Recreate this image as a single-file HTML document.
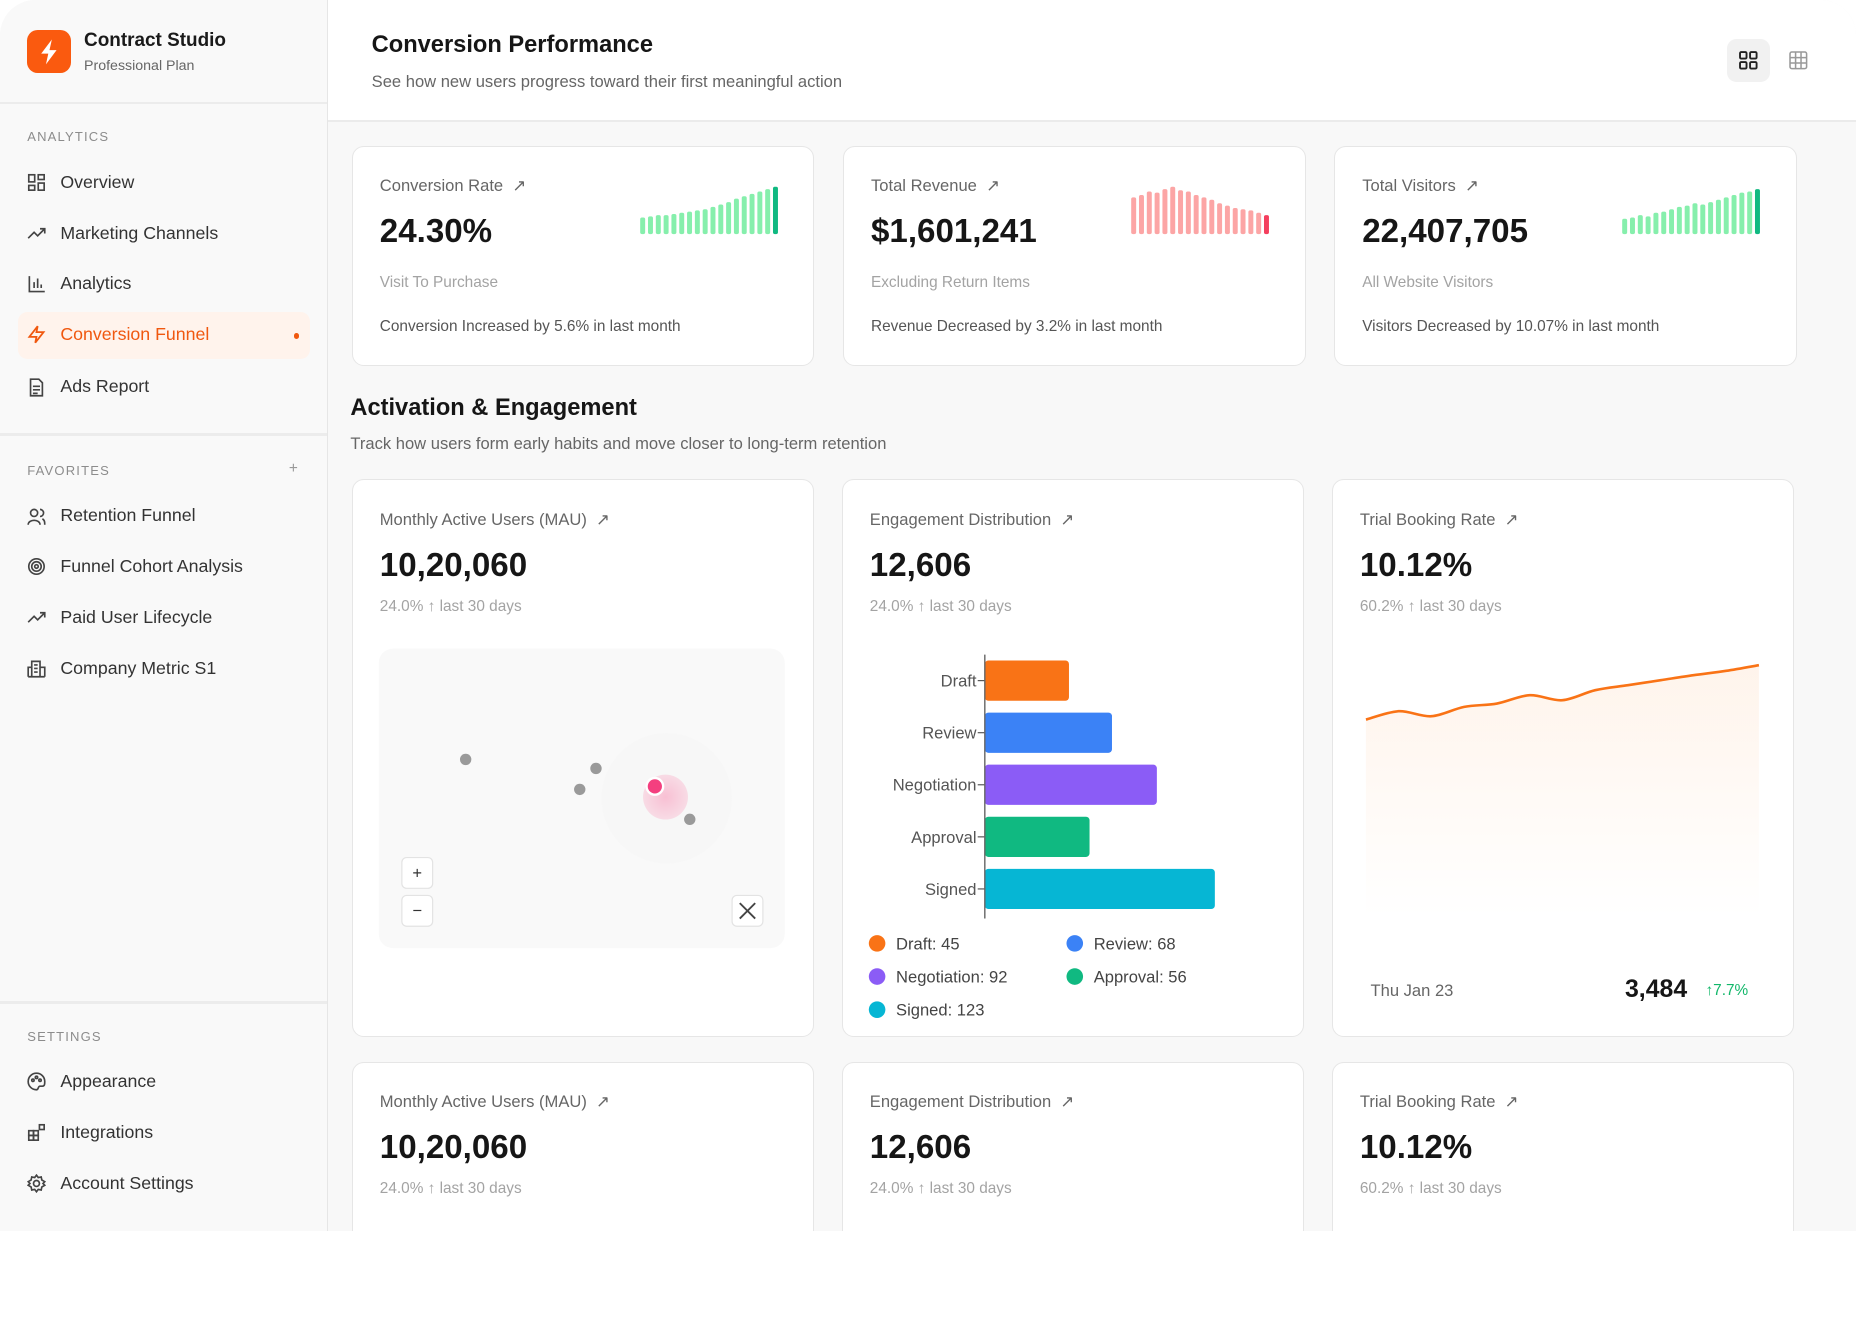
<!DOCTYPE html>
<html><head><meta charset="utf-8">
<style>
html,body{margin:0;padding:0;background:#fff;}
body{width:1856px;height:1344px;overflow:hidden;font-family:"Liberation Sans",sans-serif;}
#stage{position:relative;width:1568px;height:1135px;zoom:1.18367;}
.abs{position:absolute;white-space:nowrap;}
#win{position:absolute;left:0;top:0;width:1568px;height:1040px;background:#f8f8f8;border-radius:30px 30px 0 0;overflow:hidden;}
#side{position:absolute;left:0;top:0;width:276px;height:1040px;background:#f9f9f9;border-right:1px solid #e6e6e6;}
.hr{position:absolute;left:0;width:276px;height:2px;background:#ececec;}
.sec{position:absolute;left:23px;font-size:11px;letter-spacing:1px;color:#8c8c8c;}
.item{position:absolute;left:23px;width:230px;height:18px;font-size:15px;line-height:18px;color:#333;white-space:nowrap;}
.item svg{position:absolute;left:0;top:1px;}
.item span{position:absolute;left:28px;white-space:nowrap;}
#head{position:absolute;left:277px;top:0;width:1291px;height:101px;background:#fff;border-bottom:2px solid #ebebeb;}
.card{position:absolute;background:#fff;border:1.5px solid #e6e6e6;border-radius:10px;box-sizing:border-box;}
.lbl{font-size:14px;color:#666;}
.val{font-size:28px;font-weight:bold;color:#161616;}
.sub{font-size:13px;color:#a3a3a3;}
.foot{font-size:13px;color:#555;}
</style></head><body>
<div id="stage">
<div id="win">
<div id="side">
  <div class="abs" style="left:23px;top:25px;width:37px;height:37px;border-radius:9px;background:#fa5a0f;">
    <svg width="37" height="37" viewBox="0 0 37 37"><path d="M21 8 L12 20 H18 L16 29 L25 17 H19 Z" fill="#fff"/></svg></div>
  <div class="abs" style="left:71px;top:25px;font-size:16px;font-weight:bold;color:#1a1a1a;">Contract Studio</div>
  <div class="abs" style="left:71px;top:49px;font-size:12px;color:#666;">Professional Plan</div>
  <div class="hr" style="top:86px;"></div>
  <div class="sec" style="top:109px;">ANALYTICS</div>
  <div class="item" style="top:145px;"><svg width="16" height="16" fill="none" stroke="#444" stroke-width="1.4"><rect x="1.5" y="1.5" width="5" height="6"/><rect x="9.5" y="1.5" width="5" height="4"/><rect x="1.5" y="10.5" width="5" height="4"/><rect x="9.5" y="8.5" width="5" height="6"/></svg><span>Overview</span></div>
  <div class="item" style="top:188px;"><svg width="16" height="16" fill="none" stroke="#444" stroke-width="1.4"><path d="M1 12 L6 7 L9 10 L15 4 M11 4 H15 V8"/></svg><span>Marketing Channels</span></div>
  <div class="item" style="top:231px;"><svg width="16" height="16" fill="none" stroke="#444" stroke-width="1.4"><path d="M2 1 V14 H15 M6 11 V6 M9 11 V3 M12 11 V8"/></svg><span>Analytics</span></div>
  <div class="abs" style="left:15px;top:264px;width:247px;height:39px;background:#fff3ec;border-radius:8px;"></div>
  <div class="item" style="top:274px;color:#f0580f;"><svg width="16" height="16" fill="none" stroke="#f0580f" stroke-width="1.5"><path d="M9 1 L2 10 H8 L7 15 L14 6 H8 Z"/></svg><span>Conversion Funnel</span></div>
  <div class="abs" style="left:248px;top:281px;width:5px;height:5px;border-radius:50%;background:#f0580f;"></div>
  <div class="item" style="top:318px;"><svg width="16" height="16" fill="none" stroke="#444" stroke-width="1.4"><path d="M3 1 H10 L13 4 V15 H3 Z M5 7 H11 M5 10 H11 M5 13 H9"/></svg><span>Ads Report</span></div>
  <div class="hr" style="top:366px;"></div>
  <div class="sec" style="top:391px;">FAVORITES</div>
  <div class="abs" style="left:244px;top:389px;font-size:13px;color:#999;">+</div>
  <div class="item" style="top:427px;"><svg width="16" height="16" fill="none" stroke="#444" stroke-width="1.4"><circle cx="6" cy="5" r="3"/><path d="M1 15 C1 10 11 10 11 15 M11 2 A3 3 0 0 1 11 8 M13 10 C15 11 15 13 15 15"/></svg><span>Retention Funnel</span></div>
  <div class="item" style="top:470px;"><svg width="16" height="16" fill="none" stroke="#444" stroke-width="1.4"><circle cx="8" cy="8" r="6.5"/><circle cx="8" cy="8" r="4"/><circle cx="8" cy="8" r="1.5"/></svg><span>Funnel Cohort Analysis</span></div>
  <div class="item" style="top:513px;"><svg width="16" height="16" fill="none" stroke="#444" stroke-width="1.4"><path d="M1 12 L6 7 L9 10 L15 4 M11 4 H15 V8"/></svg><span>Paid User Lifecycle</span></div>
  <div class="item" style="top:556px;"><svg width="16" height="16" fill="none" stroke="#444" stroke-width="1.4"><path d="M4 15 V2 H11 V15 Z M1 15 H15 M1 15 V7 H4 M11 7 H15 V15 M6 5 H9 M6 8 H9 M6 11 H9"/></svg><span>Company Metric S1</span></div>
  <div class="hr" style="top:846px;"></div>
  <div class="sec" style="top:869px;">SETTINGS</div>
  <div class="item" style="top:905px;"><svg width="16" height="16" fill="none" stroke="#444" stroke-width="1.4"><path d="M8 1 A7 7 0 0 0 8 15 C10 15 9 12 11 12 H13 C15 12 15 10 15 8 A7 7 0 0 0 8 1 Z"/><circle cx="5" cy="7" r="1"/><circle cx="8" cy="4.5" r="1"/><circle cx="11" cy="7" r="1"/></svg><span>Appearance</span></div>
  <div class="item" style="top:948px;"><svg width="16" height="16" fill="none" stroke="#444" stroke-width="1.4"><rect x="1.5" y="6.5" width="4" height="4"/><rect x="5.5" y="6.5" width="4" height="4"/><rect x="1.5" y="10.5" width="4" height="4"/><rect x="5.5" y="10.5" width="4" height="4"/><rect x="10.5" y="1.5" width="4" height="4"/></svg><span>Integrations</span></div>
  <div class="item" style="top:991px;"><svg width="16" height="16" fill="none" stroke="#444" stroke-width="1.4"><circle cx="8" cy="8" r="2.5"/><path d="M8 1 L9.5 3 L12 2.5 L12.5 5 L15 6.5 L13.5 8 L15 9.5 L12.5 11 L12 13.5 L9.5 13 L8 15 L6.5 13 L4 13.5 L3.5 11 L1 9.5 L2.5 8 L1 6.5 L3.5 5 L4 2.5 L6.5 3 Z"/></svg><span>Account Settings</span></div>
</div>

<div id="head">
  <div class="abs" style="left:37px;top:27px;font-size:20px;font-weight:bold;color:#161616;">Conversion Performance</div>
  <div class="abs" style="left:37px;top:61px;font-size:14px;color:#666;">See how new users progress toward their first meaningful action</div>
  <div class="abs" style="left:1182px;top:33px;width:36px;height:36px;border-radius:8px;background:#f1f1f1;">
    <svg width="36" height="36" fill="none" stroke="#222" stroke-width="1.6"><rect x="11" y="11" width="5.5" height="5.5" rx="1"/><rect x="19.5" y="11" width="5.5" height="5.5" rx="1"/><rect x="11" y="19.5" width="5.5" height="5.5" rx="1"/><rect x="19.5" y="19.5" width="5.5" height="5.5" rx="1"/></svg></div>
  <div class="abs" style="left:1224px;top:33px;width:36px;height:36px;">
    <svg width="36" height="36" fill="none" stroke="#999" stroke-width="1.3"><rect x="11" y="11" width="14" height="14" rx="1.5"/><path d="M15.7 11 V25 M20.3 11 V25 M11 15.7 H25 M11 20.3 H25"/></svg></div>
</div>

<!-- KPI cards -->
<div class="card" style="left:297px;top:123px;width:391px;height:186px;">
  <div class="abs lbl" style="left:23px;top:25px;">Conversion Rate &nbsp;↗</div>
  <div class="abs val" style="left:23px;top:56px;">24.30%</div>
  <div class="abs sub" style="left:23px;top:108px;">Visit To Purchase</div>
  <div class="abs foot" style="left:23px;top:145px;">Conversion Increased by 5.6% in last month</div>
  <svg class="abs" id="spark1" style="left:242px;top:30px;" width="122" height="45"></svg>
</div>
<div class="card" style="left:712px;top:123px;width:391px;height:186px;">
  <div class="abs lbl" style="left:23px;top:25px;">Total Revenue &nbsp;↗</div>
  <div class="abs val" style="left:23px;top:56px;">$1,601,241</div>
  <div class="abs sub" style="left:23px;top:108px;">Excluding Return Items</div>
  <div class="abs foot" style="left:23px;top:145px;">Revenue Decreased by 3.2% in last month</div>
  <svg class="abs" id="spark2" style="left:242px;top:30px;" width="122" height="45"></svg>
</div>
<div class="card" style="left:1127px;top:123px;width:391px;height:186px;">
  <div class="abs lbl" style="left:23px;top:25px;">Total Visitors &nbsp;↗</div>
  <div class="abs val" style="left:23px;top:56px;">22,407,705</div>
  <div class="abs sub" style="left:23px;top:108px;">All Website Visitors</div>
  <div class="abs foot" style="left:23px;top:145px;">Visitors Decreased by 10.07% in last month</div>
  <svg class="abs" id="spark3" style="left:242px;top:30px;" width="122" height="45"></svg>
</div>

<div class="abs" style="left:296px;top:334px;font-size:20px;font-weight:bold;color:#161616;">Activation &amp; Engagement</div>
<div class="abs" style="left:296px;top:367px;font-size:14px;color:#666;">Track how users form early habits and move closer to long-term retention</div>

<!-- Row 2 -->
<div class="card" style="left:297px;top:405px;width:391px;height:471px;">
  <div class="abs lbl" style="left:23px;top:25px;">Monthly Active Users (MAU) &nbsp;↗</div>
  <div class="abs val" style="left:23px;top:56px;">10,20,060</div>
  <div class="abs sub" style="left:23px;top:99px;">24.0% ↑ last 30 days</div>
</div>
<div class="card" style="left:711px;top:405px;width:391px;height:471px;">
  <div class="abs lbl" style="left:23px;top:25px;">Engagement Distribution &nbsp;↗</div>
  <div class="abs val" style="left:23px;top:56px;">12,606</div>
  <div class="abs sub" style="left:23px;top:99px;">24.0% ↑ last 30 days</div>
</div>
<div class="card" style="left:1125px;top:405px;width:391px;height:471px;">
  <div class="abs lbl" style="left:23px;top:25px;">Trial Booking Rate &nbsp;↗</div>
  <div class="abs val" style="left:23px;top:56px;">10.12%</div>
  <div class="abs sub" style="left:23px;top:99px;">60.2% ↑ last 30 days</div>
  <div class="abs" style="left:32px;top:423px;font-size:14px;color:#666;">Thu Jan 23</div>
  <div class="abs" style="left:247px;top:419px;font-size:21px;font-weight:bold;color:#161616;">3,484</div>
  <div class="abs" style="left:315px;top:424px;font-size:13px;color:#12b76a;">↑7.7%</div>
</div>

<!-- Row 3 -->
<div class="card" style="left:297px;top:897px;width:391px;height:200px;">
  <div class="abs lbl" style="left:23px;top:25px;">Monthly Active Users (MAU) &nbsp;↗</div>
  <div class="abs val" style="left:23px;top:56px;">10,20,060</div>
  <div class="abs sub" style="left:23px;top:99px;">24.0% ↑ last 30 days</div>
</div>
<div class="card" style="left:711px;top:897px;width:391px;height:200px;">
  <div class="abs lbl" style="left:23px;top:25px;">Engagement Distribution &nbsp;↗</div>
  <div class="abs val" style="left:23px;top:56px;">12,606</div>
  <div class="abs sub" style="left:23px;top:99px;">24.0% ↑ last 30 days</div>
</div>
<div class="card" style="left:1125px;top:897px;width:391px;height:200px;">
  <div class="abs lbl" style="left:23px;top:25px;">Trial Booking Rate &nbsp;↗</div>
  <div class="abs val" style="left:23px;top:56px;">10.12%</div>
  <div class="abs sub" style="left:23px;top:99px;">60.2% ↑ last 30 days</div>
</div>

<svg id="charts" class="abs" style="left:0;top:0;" width="1568" height="1040">
  <defs>
    <linearGradient id="areaGrad" x1="0" y1="0" x2="0" y2="1">
      <stop offset="0" stop-color="#fb923c" stop-opacity="0.10"/>
      <stop offset="1" stop-color="#fb923c" stop-opacity="0"/>
    </linearGradient>
    <radialGradient id="halo"><stop offset="0" stop-color="#f9a8c4" stop-opacity="0.7"/><stop offset="1" stop-color="#f9a8c4" stop-opacity="0.35"/></radialGradient>
  </defs>
  <rect x="320" y="548" width="343" height="253" rx="12" fill="#f9f9f9"/>
  <g id="scatter"></g>
  <g><rect x="339.5" y="724.5" width="26" height="26" rx="4" fill="#fff" stroke="#e3e3e3"/><text x="352.5" y="742" font-size="14" text-anchor="middle" fill="#333" font-family="Liberation Sans">+</text></g>
  <g><rect x="339.5" y="756.5" width="26" height="26" rx="4" fill="#fff" stroke="#e3e3e3"/><text x="352.5" y="774" font-size="14" text-anchor="middle" fill="#333" font-family="Liberation Sans">−</text></g>
  <g><rect x="618.5" y="756.5" width="26" height="26" rx="4" fill="#fff" stroke="#e3e3e3"/><path d="M625 763 L638 776 M638 763 L625 776" stroke="#444" stroke-width="1.6"/></g>
  <g id="bars"></g>
  <g id="legend"></g>
  <g id="line"></g>
</svg>
</div>
</div>
<script>
const NS='http://www.w3.org/2000/svg';
function mk(parent,tag,attrs){const e=document.createElementNS(NS,tag);for(const k in attrs)e.setAttribute(k,attrs[k]);parent.appendChild(e);return e;}

// Sparkline data
const conversionSpark=[14,15,16,16,17,18,19,20,21,23,25,27,30,32,34,36,38,40];
const revenueSpark=[31,33,36,35,38,40,37,36,33,31,29,26,24,22,21,20,18,16];
const visitorsSpark=[13,14,16,15,18,19,21,23,24,26,25,27,29,31,33,35,36,38];

function spark(id,vals,col,last){
  const s=document.getElementById(id);const maxV=42;const h=42;
  vals.forEach((v,i)=>{
    const bh=v/maxV*h;
    const r=mk(s,'rect',{x:i*6.6+1,y:h+2-bh,width:4.2,height:bh,rx:1.5,fill:i===vals.length-1?last:col});
    
    
  });
}
spark('spark1',conversionSpark,'#86efac','#10b981');
spark('spark2',revenueSpark,'#fca5a5','#f43f5e');
spark('spark3',visitorsSpark,'#86efac','#10b981');

// Engagement bar chart data
const stages=['Draft','Review','Negotiation','Approval','Signed'];
const stageValues=[45,68,92,56,123];
const stageColors=['#f97316','#3b82f6','#8b5cf6','#10b981','#06b6d4'];
(function(){
  const g=document.getElementById('bars');
  const x0=832, pxPer=1.58, yTop=553, band=44, bh=34;
  const xs=v=>x0+v*pxPer;
  const yc=i=>yTop+band*i+band/2;
  stages.forEach((s,i)=>{
    const r=mk(g,'rect',{x:x0,y:yc(i)-bh/2,width:xs(stageValues[i])-x0,height:bh,rx:3,fill:stageColors[i]});
    
    
    mk(g,'line',{x1:x0-6,x2:x0,y1:yc(i),y2:yc(i),stroke:'#555','stroke-width':1});
    const t=mk(g,'text',{x:x0-7,y:yc(i)+5,'text-anchor':'end','font-size':14,fill:'#555','font-family':'Liberation Sans'});
    t.textContent=s;
    
    
  });
  const ax=mk(g,'line',{x1:x0,x2:x0,y1:yTop,y2:yTop+band*stages.length+3,stroke:'#666','stroke-width':1.2});
  
  
  const lg=document.getElementById('legend');
  stages.forEach((s,i)=>{
    const cx=741+(i%2)*167, cy=797+Math.floor(i/2)*28;
    const e=mk(lg,'g',{});
    
    
    mk(e,'circle',{cx:cx,cy:cy,r:7,fill:stageColors[i]});
    const t=mk(e,'text',{x:cx+16,y:cy+5,'font-size':14,fill:'#444','font-family':'Liberation Sans'});
    t.textContent=s+': '+stageValues[i];
  });
})();

// Map scatter data (domain 0-100)
const pointX=[21.4,53.5,49.5,76.6];
const pointY=[63,60,53,43];
const highlightX=[68];
const highlightY=[54];
(function(){
  const g=document.getElementById('scatter');
  const sx=v=>320+v/100*343, sy=v=>801-v/100*253;
  const hx=sx(highlightX[0]), hy=sy(highlightY[0]);
  mk(g,'circle',{cx:hx+10,cy:hy+10,r:55,fill:'#f3f3f3',opacity:0.35});
  mk(g,'circle',{cx:hx+9,cy:hy+9,r:19,fill:'url(#halo)'});
  pointX.forEach((v,i)=>{
    const c=mk(g,'circle',{cx:sx(v),cy:sy(pointY[i]),r:4.8,fill:'#9a9a9a'});
    
    
  });
  const h=mk(g,'circle',{cx:hx,cy:hy,r:7,fill:'#f43f7f',stroke:'#fff','stroke-width':2});
  
  
})();

// Trial booking line data
const bookingValues=[12,37,22,50,60,85,70,100,115,130,145,158,175];
(function(){
  const g=document.getElementById('line');
  const x0=1154,x1=1486, n=bookingValues.length;
  const xs=i=>x0+(x1-x0)*i/(n-1);
  const ys=v=>611.3-v*0.282;
  const pts=bookingValues.map((v,i)=>[xs(i),ys(v)]);
  let d='M'+pts[0][0]+','+pts[0][1];
  for(let i=0;i<n-1;i++){
    const p0=pts[Math.max(0,i-1)],p1=pts[i],p2=pts[i+1],p3=pts[Math.min(n-1,i+2)];
    const c1=[p1[0]+(p2[0]-p0[0])/6,p1[1]+(p2[1]-p0[1])/6];
    const c2=[p2[0]-(p3[0]-p1[0])/6,p2[1]-(p3[1]-p1[1])/6];
    d+=' C'+c1[0]+','+c1[1]+' '+c2[0]+','+c2[1]+' '+p2[0]+','+p2[1];
  }
  const a=mk(g,'path',{d:d+' L'+x1+',775 L'+x0+',775 Z',fill:'url(#areaGrad)'});
  
  
  const l=mk(g,'path',{d:d,fill:'none',stroke:'#f97316','stroke-width':2.2});
  
  
})();
</script>
</body></html>
